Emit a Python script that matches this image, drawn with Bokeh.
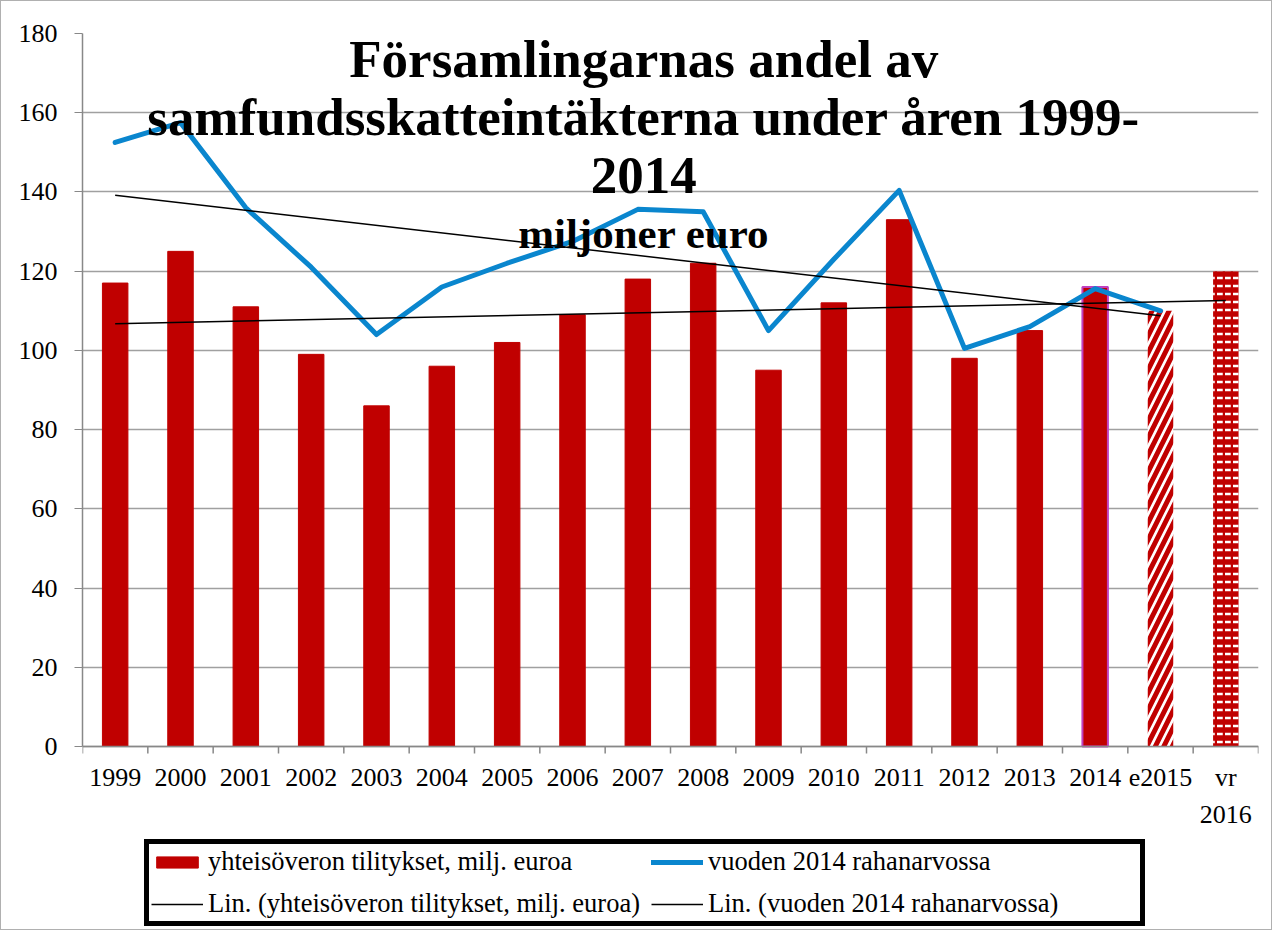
import numpy as np
from bokeh.plotting import figure
from bokeh.models import Range1d, FixedTicker, Label, Legend, LegendItem, Span
from bokeh.core.properties import value
from bokeh.embed import file_html
from bokeh.resources import INLINE

# ---- data ----
categories = ["1999", "2000", "2001", "2002", "2003", "2004", "2005", "2006", "2007",
              "2008", "2009", "2010", "2011", "2012", "2013", "2014", "e2015", "vr\n2016"]
tilitykset = [117, 125, 111, 99, 86, 96, 102, 109, 118, 122, 95, 112, 133, 98, 105, 116, 110, 120]
rahanarvo = [152.5, 157.5, 136, 121, 104, 116, 122, 127.5, 135.6, 135, 105, 123, 140.4,
             100.5, 106, 115.6, 110]
y_ticks = [0, 20, 40, 60, 80, 100, 120, 140, 160, 180]
title_lines = ["Församlingarnas andel av", "samfundsskatteintäkterna under åren 1999-", "2014"]
subtitle = "miljoner euro"
legend_labels = ["yhteisöveron tilitykset, milj. euroa", "vuoden 2014 rahanarvossa",
                 "Lin. (yhteisöveron tilitykset, milj. euroa)", "Lin. (vuoden 2014 rahanarvossa)"]

FONT = "Liberation Serif"
RED = "#C00000"
BLUE = "#0A86CE"
GRAY = "#A0A0A0"
AXIS = "#888888"

n = len(categories)
xc = np.arange(n) + 0.5
bounds = np.arange(n + 1)

# frame: 898 px tall, 0..180 occupies the top 713 px; the rest hosts axis labels + legend
FRAME_H = 898
PX_PER_UNIT = 713 / 180.0
y_start = 180 - FRAME_H / PX_PER_UNIT

p = figure(width=1272, height=930, x_range=Range1d(0, n), y_range=Range1d(y_start, 180),
           output_backend="svg", toolbar_location=None, x_axis_location=None,
           min_border_left=81, min_border_right=15, min_border_top=32, min_border_bottom=0)
p.styles = {"border": "1px solid #B0B0B0"}
p.outline_line_color = None
p.background_fill_color = "white"
p.border_fill_color = "white"

# grid
p.xgrid.visible = False
p.ygrid.grid_line_color = GRAY
p.ygrid.grid_line_width = 1.5
p.ygrid.ticker = FixedTicker(ticks=y_ticks)

# y axis
p.yaxis.ticker = FixedTicker(ticks=y_ticks, minor_ticks=[])
p.yaxis.bounds = (0, 180)
p.yaxis.axis_line_color = AXIS
p.yaxis.axis_line_width = 1.5
p.yaxis.major_tick_line_color = AXIS
p.yaxis.major_tick_out = 8
p.yaxis.major_tick_in = 0
p.yaxis.minor_tick_line_color = None
p.yaxis.major_label_standoff = 17
p.yaxis.major_label_text_font = FONT
p.yaxis.major_label_text_font_size = "26px"
p.yaxis.major_label_text_color = "black"

# category axis drawn at y = 0
p.add_layout(Span(location=0, dimension="width", line_color=AXIS, line_width=1.5))
tick_len = 7 / PX_PER_UNIT
p.segment(x0=bounds, y0=[0] * (n + 1), x1=bounds, y1=[-tick_len] * (n + 1),
          line_color=AXIS, line_width=1.5)
label_offsets = [16 if "\n" in c else 22 for c in categories]
p.text(x=xc, y=[0] * n, text=categories, y_offset=label_offsets, text_align="center",
       text_baseline="top", text_font=value(FONT), text_font_size="26px",
       text_color="black", text_line_height=1.28)

# bars
bw = 0.39
r_bar = p.vbar(x=list(xc[:15]), top=tilitykset[:15], width=bw, fill_color=RED, line_color=RED)
p.vbar(x=[xc[15]], top=[tilitykset[15]], width=bw, fill_color=RED, line_color="#C040C0", line_width=2)
p.vbar(x=[xc[16]], top=[tilitykset[16]], width=bw, fill_color="white", line_color=None,
       hatch_pattern="/", hatch_color=RED, hatch_weight=5, hatch_scale=17)
p.vbar(x=[xc[17]], top=[tilitykset[17]], width=bw, fill_color=RED, line_color=None,
       hatch_pattern="horizontal_dash", hatch_color="white", hatch_weight=2.5, hatch_scale=8)

# blue line
nb = len(rahanarvo)
r_blue = p.line(x=list(xc[:nb]), y=rahanarvo, line_color=BLUE, line_width=5,
                line_join="round", line_cap="round")

# linear trends
k1, b1 = np.polyfit(np.arange(n), tilitykset, 1)
r_lin1 = p.line(x=[xc[0], xc[-1]], y=[b1, b1 + k1 * (n - 1)], line_color="black", line_width=1.5)
k2, b2 = np.polyfit(np.arange(nb), rahanarvo, 1)
r_lin2 = p.line(x=[xc[0], xc[nb - 1]], y=[b2, b2 + k2 * (nb - 1)], line_color="black", line_width=1.5)

# title texts
title_y = [173.6, 159.0, 144.1]
for t, yy in zip(title_lines, title_y):
    p.add_layout(Label(x=8.59, y=yy, text=t, text_font=FONT, text_font_style="bold",
                       text_font_size="53px", text_align="center", text_baseline="middle",
                       text_color="black"))
p.add_layout(Label(x=8.59, y=129.5, text=subtitle, text_font=FONT, text_font_style="bold",
                   text_font_size="43px", text_align="center", text_baseline="middle",
                   text_color="black"))

legend = Legend(items=[LegendItem(label=legend_labels[0], renderers=[r_bar]),
                       LegendItem(label=legend_labels[1], renderers=[r_blue]),
                       LegendItem(label=legend_labels[2], renderers=[r_lin1]),
                       LegendItem(label=legend_labels[3], renderers=[r_lin2])],
                location=(62, 5), orientation="horizontal", ncols=2,
                label_text_font=FONT, label_text_font_size="26.5px", label_text_color="black",
                glyph_width=52, glyph_height=14, label_standoff=5, padding=2, spacing=11,
                label_height=30, label_width=430,
                border_line_color="black", border_line_width=5, border_line_alpha=1.0,
                background_fill_color="white", background_fill_alpha=1.0, margin=0)
p.add_layout(legend)

open("out.html", "w").write(file_html(p, INLINE))
